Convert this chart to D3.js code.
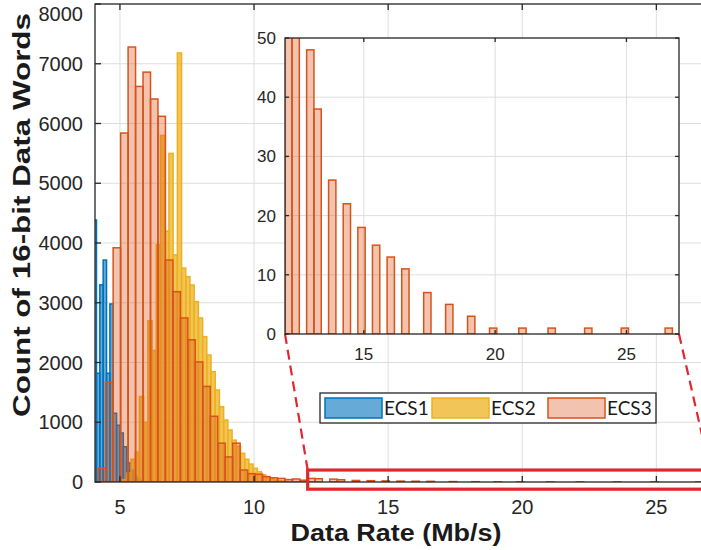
<!DOCTYPE html>
<html>
<head>
<meta charset="utf-8">
<script src="https://cdn.jsdelivr.net/npm/d3@7"></script>
<style>
  body { margin: 0; background: #fff; }
  svg { display: block; }
</style>
</head>
<body>
<svg id="chart" width="701" height="550"></svg>
<script>
'use strict';

// tick values
var xTicks = [5, 10, 15, 20, 25];
var yTicks = [0, 1000, 2000, 3000, 4000, 5000, 6000, 7000, 8000];
var insetXTicks = [15, 20, 25];
var insetYTicks = [0, 10, 20, 30, 40, 50];

var seriesNames = ['ECS1', 'ECS2', 'ECS3'];

// ECS1 histogram (bin start, bin width, counts)
var ecs1Start = 4.0;
var ecs1Width = 0.125;
var ecs1Counts = [4385, 1820, 3300, 3715, 1820, 2980, 1150, 950, 820, 590, 320, 200, 100, 50, 20];

// ECS2 histogram
var ecs2Start = 4.942;
var ecs2Width = 0.157;
var ecs2Counts = [0, 40, 150, 380, 500, 1430, 1000, 2700, 2200, 3970, 5800, 4200, 5500, 3800, 7180,
  3580, 3437, 3297, 3018, 2745, 2432, 2125, 1846, 1540, 1260, 1038, 870, 700, 600, 480,
  380, 300, 230, 170, 120, 80, 50, 30, 20, 10];

// ECS3 histogram
var ecs3Start = 4.19;
var ecs3Width = 0.2785;
var ecs3Counts = [230, 1670, 3920, 5840, 7280, 6620, 6860, 6410, 6120, 3715,
  3185, 2745, 2380, 2010, 1600, 1100, 650, 420, 650, 200,
  140, 130, 90, 70, 60, 40, 50, 30, 60, 55,
  0, 48, 38, 0, 26, 0, 22, 0, 18, 0,
  15, 0, 13, 0, 11, 0, 0, 7, 0, 0,
  5, 0, 0, 3, 0, 0, 1, 0, 0, 0,
  1, 0, 0, 0, 1, 0, 0, 0, 0, 1,
  0, 0, 0, 0, 1, 0, 0, 0, 0, 0,
  1];

// zoom window shown in the inset [x0, x1], [y0, y1]
var zoomX = [12, 27];
var zoomY = [-120, 200];

var colors = ['#0072BD', '#EDB120', '#D95319'];
var alphas = [0.6, 0.75, 0.35];

function bins(start, width, counts){
  return counts.map(function(c, i){
    return {x0: start + i * width, x1: start + (i + 1) * width, count: c};
  }).filter(function(d){ return d.count > 0; });
}

var series = [
  bins(ecs1Start, ecs1Width, ecs1Counts),
  bins(ecs2Start, ecs2Width, ecs2Counts),
  bins(ecs3Start, ecs3Width, ecs3Counts)
];

var svg = d3.select('#chart');
var axisColor = '#262626';
var gridColor = '#dedede';
var font = 'Liberation Sans, Arial, sans-serif';

// main axes
var main = {left: 95, top: 4, right: 710, bottom: 482};
var x = d3.scaleLinear().domain([4.07, 27]).range([main.left, main.right]);
var y = d3.scaleLinear().domain([0, 8000]).range([main.bottom, main.top]);

svg.append('rect').attr('width', 701).attr('height', 550).attr('fill', '#fff');

var defs = svg.append('defs');
defs.append('clipPath').attr('id', 'clip-main')
  .append('rect')
    .attr('x', main.left).attr('y', main.top)
    .attr('width', main.right - main.left).attr('height', main.bottom - main.top);

var g = svg.append('g');

// grid
g.selectAll('line.xgrid').data(xTicks).enter().append('line')
  .attr('x1', function(d){ return x(d); }).attr('x2', function(d){ return x(d); })
  .attr('y1', main.top).attr('y2', main.bottom)
  .attr('stroke', gridColor).attr('stroke-width', 1);
g.selectAll('line.ygrid').data(yTicks.slice(1, -1)).enter().append('line')
  .attr('x1', main.left).attr('x2', main.right)
  .attr('y1', function(d){ return y(d); }).attr('y2', function(d){ return y(d); })
  .attr('stroke', gridColor).attr('stroke-width', 1);

// bars
var barsG = g.append('g').attr('clip-path', 'url(#clip-main)');
series.forEach(function(s, i){
  barsG.append('g').selectAll('rect').data(s).enter().append('rect')
    .attr('x', function(d){ return x(d.x0); })
    .attr('width', function(d){ return x(d.x1) - x(d.x0); })
    .attr('y', function(d){ return y(d.count); })
    .attr('height', function(d){ return y(0) - y(d.count); })
    .attr('fill', colors[i]).attr('fill-opacity', alphas[i])
    .attr('stroke', colors[i]).attr('stroke-width', 1.5);
});

// box and ticks
g.append('rect')
  .attr('x', main.left).attr('y', main.top)
  .attr('width', main.right - main.left).attr('height', main.bottom - main.top)
  .attr('fill', 'none').attr('stroke', axisColor).attr('stroke-width', 1.3);

xTicks.forEach(function(t){
  g.append('line').attr('x1', x(t)).attr('x2', x(t)).attr('y1', main.bottom).attr('y2', main.bottom - 6)
    .attr('stroke', axisColor).attr('stroke-width', 1.3);
  g.append('line').attr('x1', x(t)).attr('x2', x(t)).attr('y1', main.top).attr('y2', main.top + 6)
    .attr('stroke', axisColor).attr('stroke-width', 1.3);
  g.append('text').attr('x', x(t)).attr('y', main.bottom + 32)
    .attr('text-anchor', 'middle').attr('font-family', font).attr('font-size', 20)
    .attr('fill', axisColor).text(t);
});
yTicks.forEach(function(t){
  g.append('line').attr('x1', main.left).attr('x2', main.left + 6).attr('y1', y(t)).attr('y2', y(t))
    .attr('stroke', axisColor).attr('stroke-width', 1.3);
  // the top label sits a little lower so it stays inside the figure
  g.append('text').attr('x', main.left - 12).attr('y', Math.max(y(t), 14) + 7)
    .attr('text-anchor', 'end').attr('font-family', font).attr('font-size', 20)
    .attr('fill', axisColor).text(t);
});

// axis labels
svg.append('text')
  .attr('x', 396).attr('y', 541)
  .attr('text-anchor', 'middle').attr('font-family', font).attr('font-weight', 'bold')
  .attr('font-size', 23).attr('fill', '#1a1a1a')
  .attr('textLength', 211).attr('lengthAdjust', 'spacingAndGlyphs')
  .text('Data Rate (Mb/s)');
svg.append('text')
  .attr('transform', 'translate(30,215) rotate(-90)')
  .attr('text-anchor', 'middle').attr('font-family', font).attr('font-weight', 'bold')
  .attr('font-size', 24).attr('fill', '#1a1a1a')
  .attr('textLength', 404).attr('lengthAdjust', 'spacingAndGlyphs')
  .text('Count of 16-bit Data Words');

// zoom rectangle on the main axes
var red = '#e3262d';
svg.append('rect')
  .attr('x', x(zoomX[0])).attr('y', y(zoomY[1]))
  .attr('width', x(zoomX[1]) - x(zoomX[0])).attr('height', y(zoomY[0]) - y(zoomY[1]))
  .attr('fill', 'none').attr('stroke', red).attr('stroke-width', 3.2);

// inset
var ins = {left: 285, top: 38, right: 679, bottom: 334};
var xi = d3.scaleLinear().domain(zoomX).range([ins.left, ins.right]);
var yi = d3.scaleLinear().domain([0, 50]).range([ins.bottom, ins.top]);

// connector lines
[[ins.left, x(zoomX[0])], [ins.right, x(zoomX[1])]].forEach(function(p){
  svg.append('line')
    .attr('x1', p[0]).attr('y1', ins.bottom)
    .attr('x2', p[1]).attr('y2', y(zoomY[1]))
    .attr('stroke', red).attr('stroke-width', 2.2).attr('stroke-dasharray', '10,6');
});

defs.append('clipPath').attr('id', 'clip-inset')
  .append('rect')
    .attr('x', ins.left).attr('y', ins.top)
    .attr('width', ins.right - ins.left).attr('height', ins.bottom - ins.top);

var gi = svg.append('g');
gi.append('rect')
  .attr('x', ins.left).attr('y', ins.top)
  .attr('width', ins.right - ins.left).attr('height', ins.bottom - ins.top)
  .attr('fill', '#fff');

gi.selectAll('line.xgrid').data(insetXTicks).enter().append('line')
  .attr('x1', function(d){ return xi(d); }).attr('x2', function(d){ return xi(d); })
  .attr('y1', ins.top).attr('y2', ins.bottom)
  .attr('stroke', gridColor);
gi.selectAll('line.ygrid').data(insetYTicks.slice(1, -1)).enter().append('line')
  .attr('x1', ins.left).attr('x2', ins.right)
  .attr('y1', function(d){ return yi(d); }).attr('y2', function(d){ return yi(d); })
  .attr('stroke', gridColor);

gi.append('g').attr('clip-path', 'url(#clip-inset)')
  .selectAll('rect').data(series[2]).enter().append('rect')
    .attr('x', function(d){ return xi(d.x0); })
    .attr('width', function(d){ return xi(d.x1) - xi(d.x0); })
    .attr('y', function(d){ return yi(d.count); })
    .attr('height', function(d){ return yi(0) - yi(d.count); })
    .attr('fill', colors[2]).attr('fill-opacity', alphas[2])
    .attr('stroke', colors[2]).attr('stroke-width', 1.5);

gi.append('rect')
  .attr('x', ins.left).attr('y', ins.top)
  .attr('width', ins.right - ins.left).attr('height', ins.bottom - ins.top)
  .attr('fill', 'none').attr('stroke', axisColor).attr('stroke-width', 1.3);

insetXTicks.forEach(function(t){
  gi.append('line').attr('x1', xi(t)).attr('x2', xi(t)).attr('y1', ins.bottom).attr('y2', ins.bottom - 4)
    .attr('stroke', axisColor).attr('stroke-width', 1.3);
  gi.append('line').attr('x1', xi(t)).attr('x2', xi(t)).attr('y1', ins.top).attr('y2', ins.top + 4)
    .attr('stroke', axisColor).attr('stroke-width', 1.3);
  gi.append('text').attr('x', xi(t)).attr('y', ins.bottom + 26)
    .attr('text-anchor', 'middle').attr('font-family', font).attr('font-size', 17)
    .attr('fill', axisColor).text(t);
});
insetYTicks.forEach(function(t){
  gi.append('line').attr('x1', ins.left).attr('x2', ins.left + 4).attr('y1', yi(t)).attr('y2', yi(t))
    .attr('stroke', axisColor).attr('stroke-width', 1.3);
  gi.append('line').attr('x1', ins.right).attr('x2', ins.right - 4).attr('y1', yi(t)).attr('y2', yi(t))
    .attr('stroke', axisColor).attr('stroke-width', 1.3);
  gi.append('text').attr('x', ins.left - 9).attr('y', yi(t) + 6)
    .attr('text-anchor', 'end').attr('font-family', font).attr('font-size', 17)
    .attr('fill', axisColor).text(t);
});

// legend
var lg = svg.append('g').attr('transform', 'translate(320,393)');
lg.append('rect').attr('width', 336).attr('height', 30)
  .attr('fill', '#fff').attr('stroke', axisColor).attr('stroke-width', 1.3);
var legendX = [5, 112, 228];
seriesNames.forEach(function(name, i){
  lg.append('rect')
    .attr('x', legendX[i]).attr('y', 5).attr('width', 57).attr('height', 20)
    .attr('fill', colors[i]).attr('fill-opacity', alphas[i])
    .attr('stroke', colors[i]).attr('stroke-width', 1.5);
  lg.append('text')
    .attr('x', legendX[i] + 59).attr('y', 22)
    .attr('font-family', 'Lato, Open Sans, sans-serif').attr('font-size', 19)
    .attr('fill', '#1a1a1a').text(name);
});
</script>
</body>
</html>
